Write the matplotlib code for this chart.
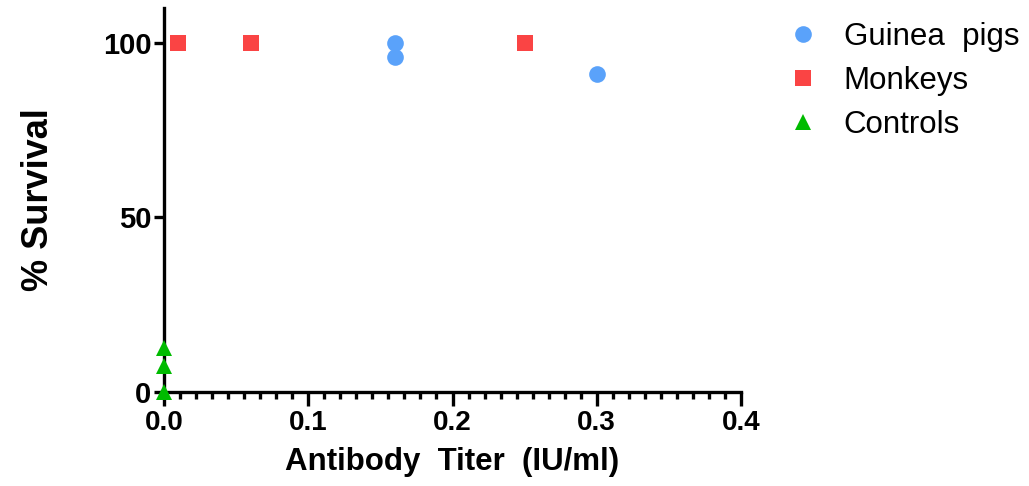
import numpy as np
import matplotlib
matplotlib.use("Agg")
import matplotlib.pyplot as plt

# Data
guinea_x = [0.16, 0.16, 0.30]
guinea_y = [100, 96, 91]
monkey_x = [0.01, 0.06, 0.25]
monkey_y = [100, 100, 100]
control_x = [0.0, 0.0, 0.0]
control_y = [0, 7.5, 12.5]

x_ticks = [0.0, 0.1, 0.2, 0.3, 0.4]
x_tick_labels = ["0.0", "0.1", "0.2", "0.3", "0.4"]
y_ticks = [0, 50, 100]
y_tick_labels = ["0", "50", "100"]

plt.rcParams['font.family'] = ['Liberation Sans', 'DejaVu Sans']

fig = plt.figure(figsize=(10.29, 4.86), dpi=100)
ax = fig.add_axes([0.1594, 0.1934, 0.5607, 0.790])

blue = '#5aa2fa'
red = '#fa4444'
green = '#00bb00'

ax.plot(guinea_x, guinea_y, 'o', color=blue, markersize=12, markeredgewidth=0,
        clip_on=False, label='Guinea  pigs', zorder=3)
ax.plot(monkey_x, monkey_y, 's', color=red, markersize=12, markeredgewidth=0,
        clip_on=False, label='Monkeys', zorder=3)
ax.plot(control_x, control_y, '^', color=green, markersize=12, markeredgewidth=0,
        clip_on=False, label='Controls', zorder=4)

ax.set_xlim(0, 0.4)
ax.set_ylim(0, 110)

for s in ['top', 'right']:
    ax.spines[s].set_visible(False)
for s in ['left', 'bottom']:
    ax.spines[s].set_linewidth(2.4)

ax.set_xticks(x_ticks)
ax.set_xticklabels(x_tick_labels, fontsize=20, fontweight='bold')
ax.set_xticks(np.arange(0, 0.4 + 1e-9, 0.1 / 9), minor=True)
ax.set_yticks(y_ticks)
ax.set_yticklabels(y_tick_labels, fontsize=21, fontweight='bold')

ax.tick_params(axis='x', which='major', length=10, width=2.4, pad=3)
ax.tick_params(axis='x', which='minor', length=5, width=2.4)
ax.tick_params(axis='y', which='major', length=7, width=2.4, pad=2)

ax.set_xlabel('Antibody  Titer  (IU/ml)', fontsize=22.5, fontweight='bold', labelpad=8)
ax.set_ylabel('% Survival', fontsize=26, fontweight='bold', labelpad=34)

leg = ax.legend(loc='upper left', bbox_to_anchor=(0.753, 0.98), bbox_transform=fig.transFigure,
                frameon=False, fontsize=22.5, handletextpad=0.8, labelspacing=0.45,
                handlelength=1.0, borderaxespad=0)

fig.savefig('out.png', dpi=100)
